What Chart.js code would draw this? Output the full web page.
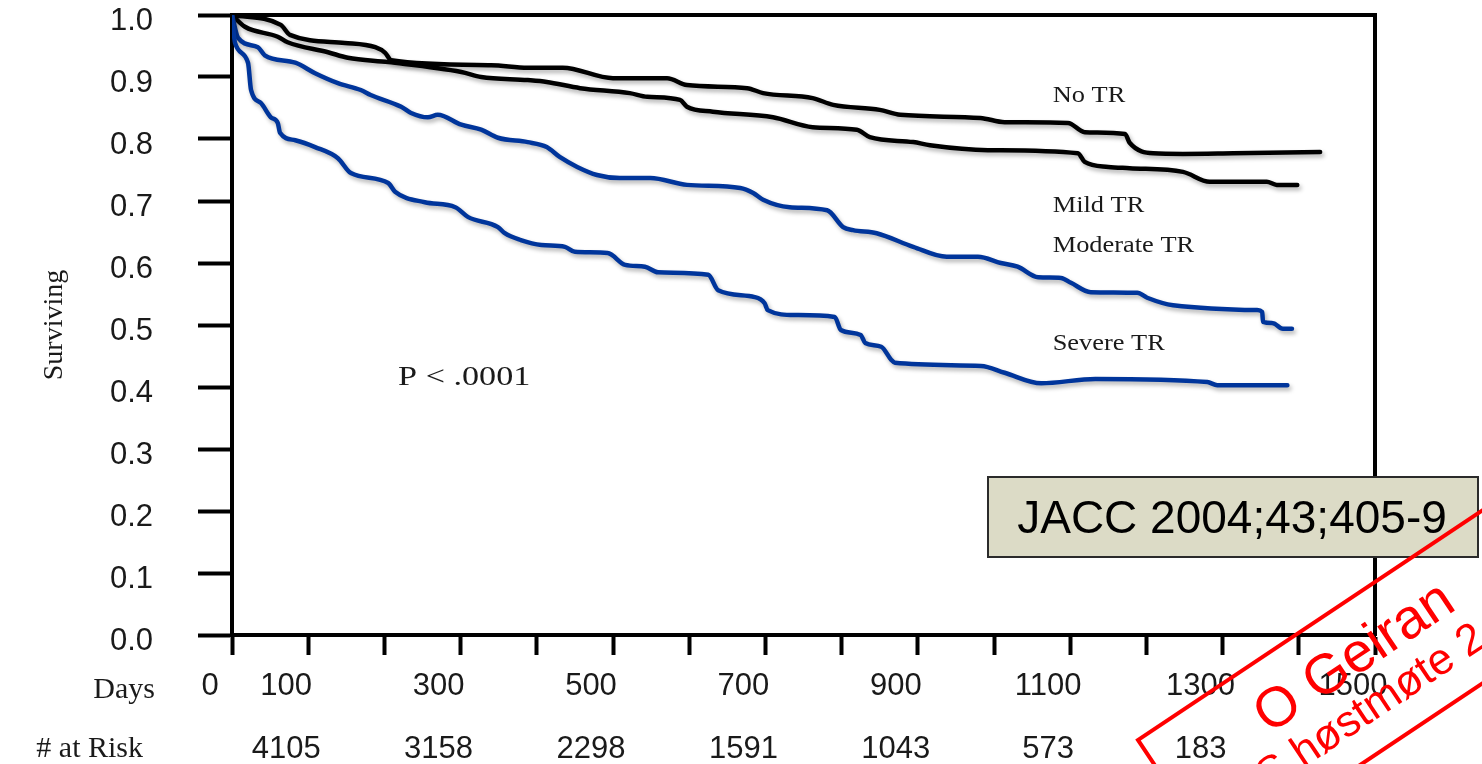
<!DOCTYPE html>
<html>
<head>
<meta charset="utf-8">
<script src="https://cdn.jsdelivr.net/npm/chart.js@4.4.1/dist/chart.umd.min.js"></script>
<style>
  html, body { margin: 0; padding: 0; background: #fff; }
  .wrap { width: 1482px; height: 764px; position: relative; }
</style>
</head>
<body>
<div class="wrap"><canvas id="km"></canvas></div>
<script>
// survival curves by TR grade
const noTrDays = [0, 64, 76, 148, 188, 201, 209, 340, 388, 434, 500, 571, 597, 676, 697, 762, 789, 850, 877, 982, 1014, 1097, 1119, 1172, 1178, 1209, 1248, 1314, 1428]
const noTrSurv = [1.0, 0.984, 0.968, 0.955, 0.948, 0.939, 0.927, 0.919, 0.915, 0.915, 0.898, 0.898, 0.887, 0.882, 0.874, 0.866, 0.855, 0.847, 0.839, 0.834, 0.827, 0.826, 0.811, 0.808, 0.794, 0.777, 0.776, 0.777, 0.779]

const mildDays = [0, 17, 60, 73, 126, 152, 205, 301, 327, 388, 413, 457, 522, 545, 588, 597, 631, 710, 762, 820, 837, 894, 916, 992, 1110, 1119, 1150, 1178, 1248, 1283, 1358, 1371, 1398]
const mildSurv = [1.0, 0.981, 0.965, 0.956, 0.940, 0.931, 0.924, 0.908, 0.900, 0.895, 0.892, 0.882, 0.874, 0.868, 0.863, 0.852, 0.844, 0.835, 0.819, 0.815, 0.803, 0.795, 0.790, 0.782, 0.777, 0.763, 0.755, 0.753, 0.747, 0.731, 0.731, 0.726, 0.726]

const modDays = [0, 8, 34, 43, 83, 109, 139, 169, 182, 222, 235, 257, 270, 301, 327, 349, 388, 413, 430, 453, 479, 509, 549, 597, 667, 684, 697, 732, 781, 802, 815, 846, 894, 938, 979, 1009, 1031, 1058, 1088, 1101, 1127, 1188, 1201, 1235, 1345, 1352, 1353, 1366, 1379, 1391]
const modSurv = [1.0, 0.963, 0.948, 0.935, 0.923, 0.906, 0.890, 0.879, 0.871, 0.852, 0.842, 0.835, 0.839, 0.823, 0.815, 0.802, 0.795, 0.787, 0.771, 0.755, 0.742, 0.737, 0.737, 0.726, 0.721, 0.713, 0.702, 0.690, 0.685, 0.658, 0.653, 0.648, 0.626, 0.610, 0.610, 0.600, 0.594, 0.577, 0.576, 0.568, 0.553, 0.552, 0.544, 0.532, 0.524, 0.521, 0.505, 0.503, 0.494, 0.494]

const sevDays = [0, 4, 21, 25, 38, 51, 60, 63, 83, 109, 139, 156, 205, 214, 253, 293, 310, 349, 358, 379, 406, 437, 450, 493, 516, 542, 559, 625, 638, 686, 699, 703, 739, 791, 799, 825, 831, 852, 865, 870, 983, 1014, 1062, 1133, 1280, 1293, 1385]
const sevSurv = [1.0, 0.955, 0.923, 0.879, 0.858, 0.835, 0.826, 0.810, 0.798, 0.787, 0.769, 0.745, 0.729, 0.715, 0.698, 0.690, 0.674, 0.658, 0.648, 0.637, 0.629, 0.626, 0.618, 0.616, 0.597, 0.594, 0.585, 0.581, 0.556, 0.545, 0.535, 0.524, 0.516, 0.513, 0.492, 0.484, 0.471, 0.465, 0.444, 0.439, 0.434, 0.423, 0.406, 0.413, 0.408, 0.403, 0.403]

// axis labels
const dayLabels = [0, 100, 300, 500, 700, 900, 1100, 1300, 1500]
const riskDays = [100, 300, 500, 700, 900, 1100, 1300]
const riskCounts = [4105, 3158, 2298, 1591, 1043, 573, 183]

// text inside the plot
const curveNames = ['No TR', 'Mild TR', 'Moderate TR', 'Severe TR']
const nameDays = [1077, 1077, 1077, 1077]
const nameSurv = [0.860, 0.682, 0.618, 0.460]
const pText = 'P < .0001'
const pDay = 218
const pSurv = 0.403

const SANS = '"Liberation Sans", Arial, sans-serif'
const SERIF = '"Liberation Serif", "Times New Roman", serif'
const BLUE = '#00359b'

function toPoints(days, surv) {
    return days.map((d, i) => ({ x: d, y: surv[i] }))
}

function lineSet(label, days, surv, color) {
    return {
        label: label,
        data: toPoints(days, surv),
        borderColor: color,
        borderWidth: 4.5,
        pointRadius: 0,
        fill: false,
        cubicInterpolationMode: 'monotone',
        borderJoinStyle: 'round',
        borderCapStyle: 'round'
    }
}

// soft grey shadow under the curves, like the slide
const shadowPlugin = {
    id: 'shadow',
    beforeDatasetsDraw(chart) {
        const ctx = chart.ctx
        ctx.save()
        ctx.shadowColor = 'rgba(0,0,0,0.3)'
        ctx.shadowBlur = 4
        ctx.shadowOffsetX = 2
        ctx.shadowOffsetY = 3
    },
    afterDatasetsDraw(chart) {
        chart.ctx.restore()
    }
}

const overlayPlugin = {
    id: 'overlay',
    afterDraw(chart) {
        const ctx = chart.ctx
        const xs = chart.scales.x
        const ys = chart.scales.y
        const area = chart.chartArea

        ctx.save()
        ctx.fillStyle = '#1a1a1a'
        ctx.textBaseline = 'alphabetic'

        // row titles under the x axis
        ctx.font = '30px ' + SERIF
        ctx.textAlign = 'right'
        ctx.fillText('Days', area.left - 77, area.bottom + 63)
        ctx.fillText('# at Risk', area.left - 89, area.bottom + 122)

        // curve names
        ctx.textAlign = 'left'
        ctx.font = '24px ' + SERIF
        curveNames.forEach((n, i) => {
            const px = xs.getPixelForValue(nameDays[i])
            const py = ys.getPixelForValue(nameSurv[i])
            ctx.save()
            ctx.translate(px, py)
            ctx.scale(1.1, 1)
            ctx.fillText(n, 0, 0)
            ctx.restore()
        })

        // p value
        ctx.font = '28px ' + SERIF
        ctx.save()
        ctx.translate(xs.getPixelForValue(pDay), ys.getPixelForValue(pSurv))
        ctx.scale(1.22, 1)
        ctx.fillText(pText, 0, 0)
        ctx.restore()

        // reference box
        ctx.fillStyle = '#dcdbc6'
        ctx.fillRect(988, 477, 490, 80)
        ctx.strokeStyle = '#2b2b2b'
        ctx.lineWidth = 2
        ctx.strokeRect(988, 477, 490, 80)
        ctx.fillStyle = '#000'
        ctx.font = '46px ' + SANS
        ctx.textAlign = 'center'
        ctx.fillText('JACC 2004;43;405-9', 1232, 533)

        // red stamp
        ctx.translate(1138, 740)
        ctx.rotate(-33.7 * Math.PI / 180)
        ctx.strokeStyle = '#ff0000'
        ctx.lineWidth = 4
        ctx.strokeRect(0, 0, 620, 144)
        ctx.fillStyle = '#ff0000'
        ctx.textAlign = 'left'
        ctx.font = '56px ' + SANS
        ctx.fillText('O Geiran', 112, 68)
        ctx.font = '44px ' + SANS
        ctx.fillText('S høstmøte 2', 80, 115)
        ctx.restore()
    }
}

const ctx = document.getElementById('km')
const chart = new Chart(ctx, {
    type: 'line',
    data: {
        datasets: [
            lineSet('Severe TR', sevDays, sevSurv, BLUE),
            lineSet('Moderate TR', modDays, modSurv, BLUE),
            lineSet('Mild TR', mildDays, mildSurv, '#000'),
            lineSet('No TR', noTrDays, noTrSurv, '#000')
        ]
    },
    options: {
        responsive: true,
        maintainAspectRatio: false,
        animation: false,
        layout: { padding: { left: 0, right: 107, top: 15, bottom: 0 } },
        plugins: {
            legend: { display: false },
            tooltip: { enabled: false }
        },
        scales: {
            x: {
                type: 'linear',
                position: 'bottom',
                min: 0,
                max: 1500,
                afterFit: (scale) => { scale.height = 129 },
                ticks: {
                    stepSize: 100,
                    autoSkip: false,
                    maxRotation: 0,
                    padding: 0,
                    labelOffset: -22,
                    color: '#1a1a1a',
                    font: { family: SANS, size: 31, lineHeight: 2.03 },
                    callback: (v) => {
                        const lab = dayLabels.includes(v) ? String(v) : ''
                        const k = riskDays.indexOf(v)
                        return [lab, k >= 0 ? String(riskCounts[k]) : '']
                    }
                },
                grid: {
                    drawOnChartArea: false,
                    drawTicks: true,
                    tickLength: 20,
                    tickWidth: 4,
                    tickColor: '#000'
                },
                border: { display: true, color: '#000', width: 4 }
            },
            xTop: {
                type: 'linear',
                position: 'top',
                min: 0,
                max: 1500,
                ticks: { display: false },
                grid: { drawOnChartArea: false, drawTicks: false },
                border: { display: true, color: '#000', width: 4 }
            },
            y: {
                type: 'linear',
                position: 'left',
                min: 0,
                max: 1,
                afterFit: (scale) => {
                    // keep the tick padding from pushing the plot down
                    scale.width = 232
                    scale.paddingTop = 15
                    scale.paddingBottom = 15
                },
                ticks: {
                    stepSize: 0.1,
                    padding: 45,
                    labelOffset: 6,
                    color: '#1a1a1a',
                    font: { family: SANS, size: 31, lineHeight: 1 },
                    callback: (v) => Number(v).toFixed(1)
                },
                grid: {
                    drawOnChartArea: false,
                    drawTicks: true,
                    tickLength: 34,
                    tickWidth: 4,
                    tickColor: '#000'
                },
                border: { display: true, color: '#000', width: 4 },
                title: {
                    display: true,
                    text: 'Surviving',
                    color: '#1a1a1a',
                    font: { family: SERIF, size: 28 },
                    padding: { top: 38, bottom: 0 }
                }
            },
            yRight: {
                type: 'linear',
                position: 'right',
                min: 0,
                max: 1,
                ticks: { display: false },
                grid: { drawOnChartArea: false, drawTicks: false },
                border: { display: true, color: '#000', width: 4 }
            }
        }
    },
    plugins: [shadowPlugin, overlayPlugin]
})
</script>
</body>
</html>
